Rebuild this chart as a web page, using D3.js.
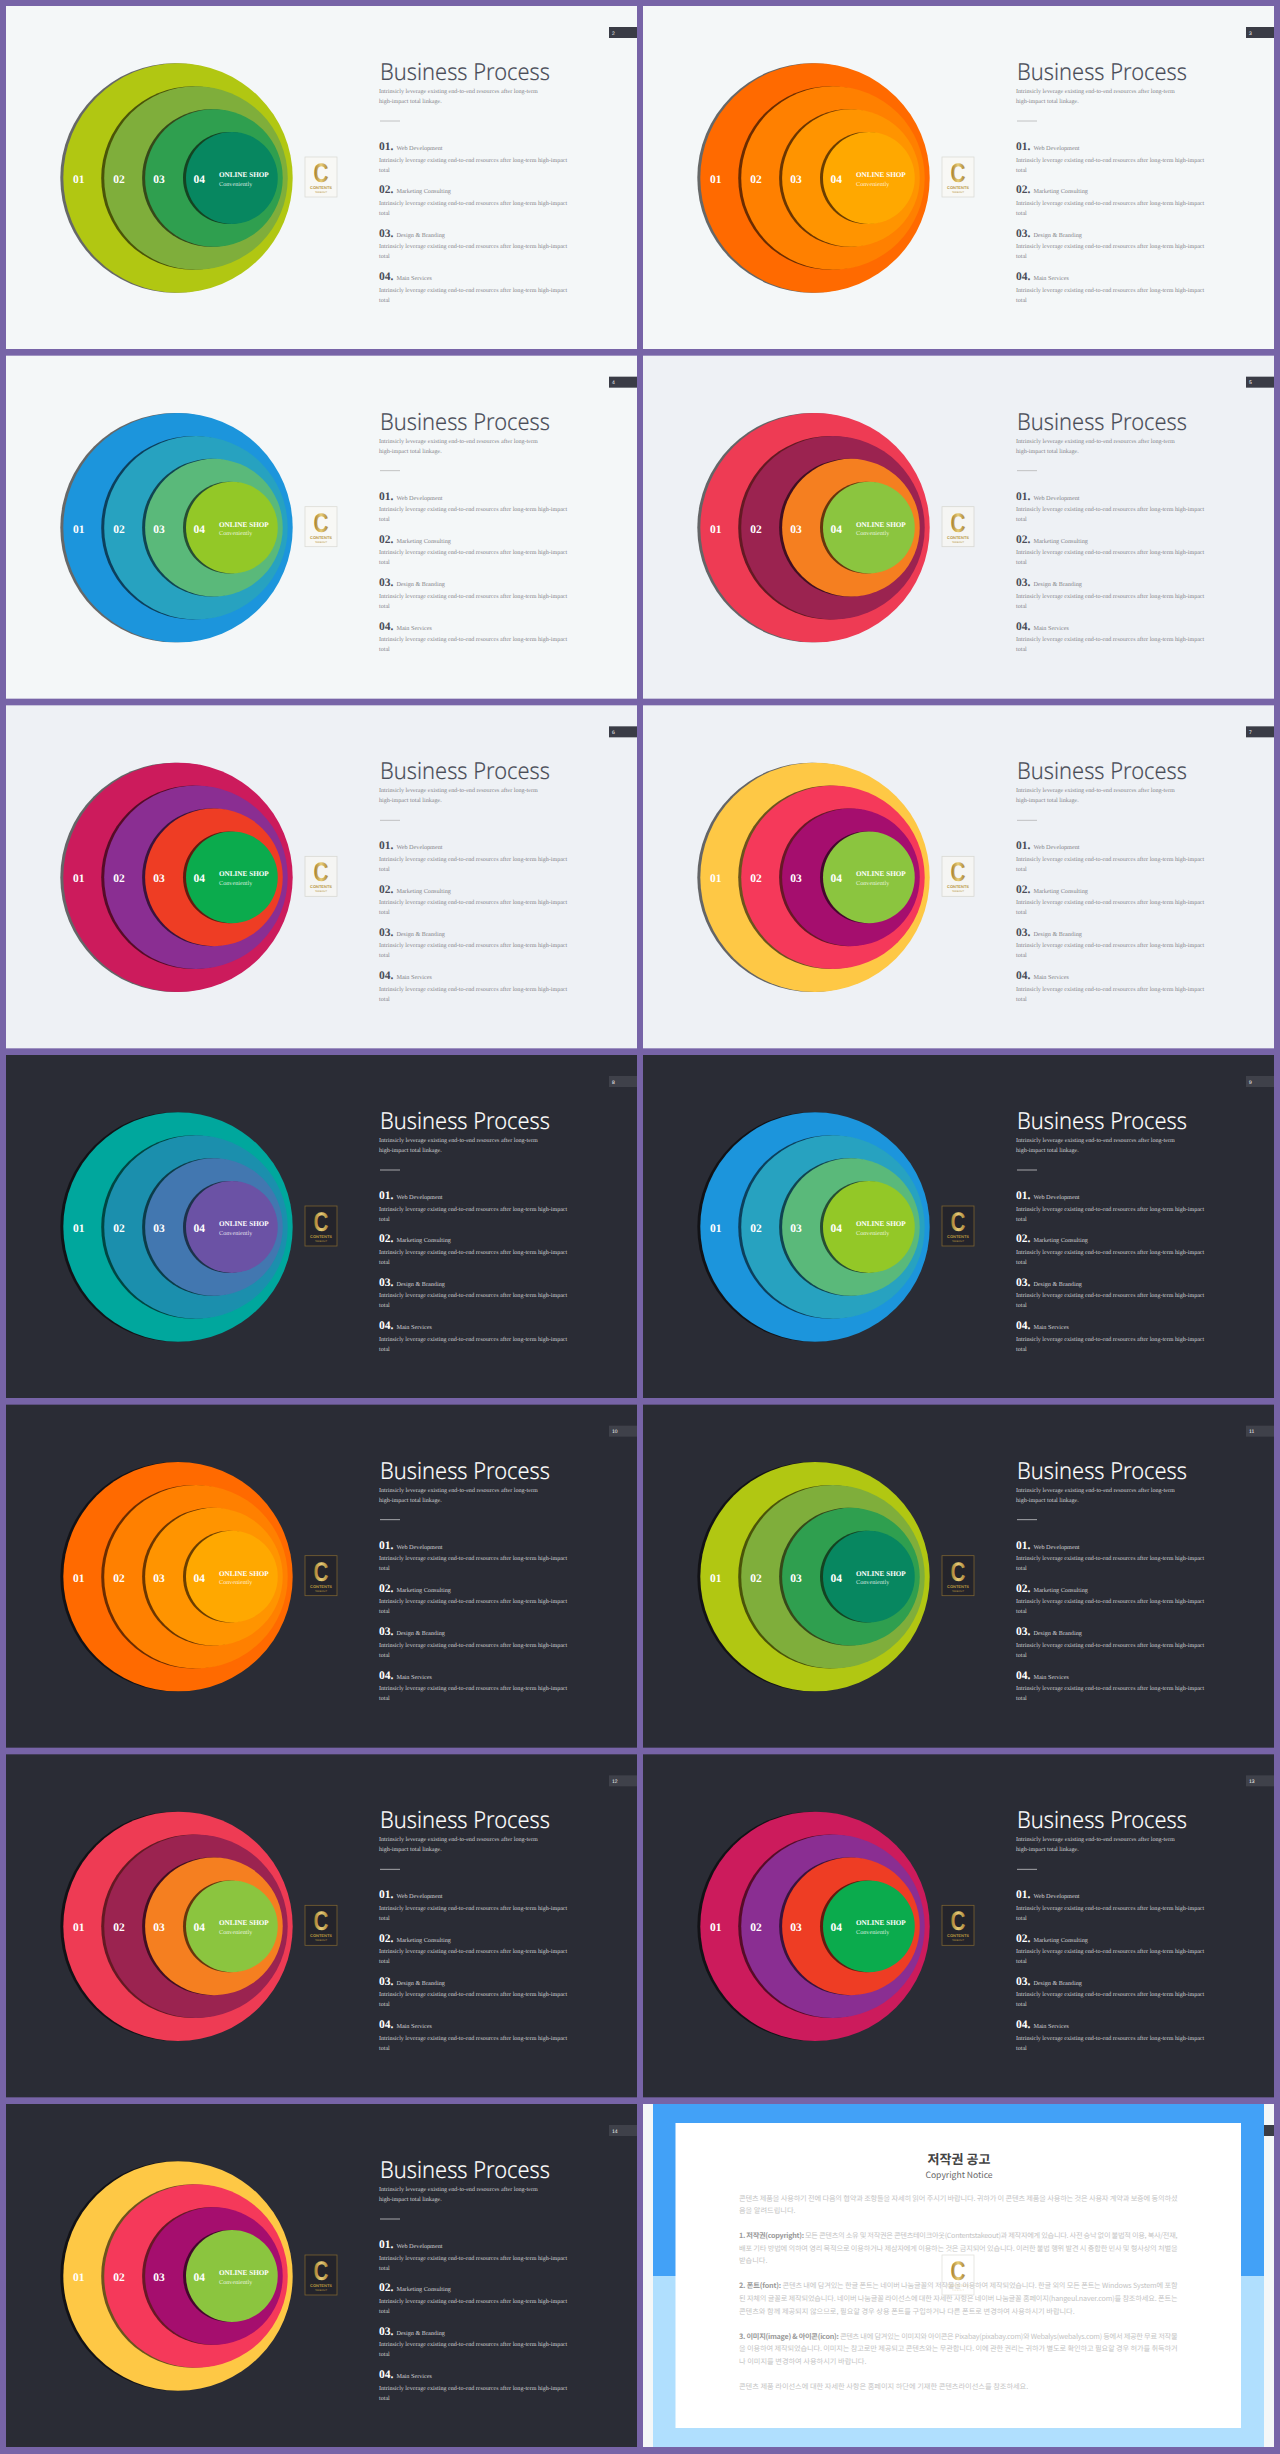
<!DOCTYPE html>
<html>
<head>
<meta charset="utf-8">
<title>Business Process</title>
<script src="https://cdn.jsdelivr.net/npm/d3@7"></script>
<style>
html, body { margin: 0; padding: 0; background: #7764a7; }
svg { display: block; text-rendering: geometricPrecision; }
.serif { font-family: "Liberation Serif", serif; font-feature-settings: "onum"; }
.kr { font-family: "Noto Sans CJK KR", sans-serif; }
</style>
</head>
<body>
<script>
//Chart data
var ringLabels = ["01", "02", "03", "04"];
var ringValues = [100, 80, 60, 40];

var itemNumbers = ["01.", "02.", "03.", "04."];
var itemLabels = ["Web Development", "Marketing Consulting", "Design & Branding", "Main Services"];
var itemText = ["Intrinsicly leverage existing end-to-end resources after long-term high-impact", "total"];
var subtitleText = ["Intrinsicly leverage existing end-to-end resources after long-term", "high-impact total linkage."];

var greenRings = ["#b1c712", "#7fae3b", "#2f9f4f", "#078760"];
var orangeRings = ["#ff6a00", "#ff8000", "#ff9400", "#ffa800"];
var blueRings = ["#1c95dc", "#27a2c0", "#5ab97a", "#93c827"];
var redRings = ["#ee3b54", "#9b2350", "#f57f20", "#8bc53f"];
var magentaRings = ["#cc1b5c", "#8a2e92", "#ee3d24", "#0bab4d"];
var yellowRings = ["#fec845", "#f5395a", "#a50e6e", "#8bc53f"];
var tealRings = ["#00a79d", "#1b8fad", "#4277b0", "#6b52a5"];

var slideRings = [greenRings, orangeRings, blueRings, redRings, magentaRings, yellowRings,
    tealRings, blueRings, orangeRings, greenRings, redRings, magentaRings, yellowRings];
var slidePages = [2, 3, 4, 5, 6, 7, 8, 9, 10, 11, 12, 13, 14];
var slideThemes = ["light", "light", "light", "pale", "pale", "pale",
    "dark", "dark", "dark", "dark", "dark", "dark", "dark"];

var noticeTitle = "저작권 공고";
var noticeSubtitle = "Copyright Notice";
var noticeParagraphs = [
    [["", "콘텐츠 제품을 사용하기 전에 다음의 협약과 조항들을 자세히 읽어 주시기 바랍니다. 귀하가 이 콘텐츠 제품을 사용하는 것은 사용자 계약과 보증에 동의하셨"],
     ["", "음을 알려드립니다."]],
    [["1. 저작권(copyright):", " 모든 콘텐츠의 소유 및 저작권은 콘텐츠테이크아웃(Contentstakeout)과 제작자에게 있습니다. 사전 승낙 없이 불법적 이용, 복사/전재,"],
     ["", "배포 기타 방법에 의하여 영리 목적으로 이용하거나 제삼자에게 이용하는 것은 금지되어 있습니다. 이러한 불법 행위 발견 시 종합한 민사 및 형사상의 처벌을"],
     ["", "받습니다."]],
    [["2. 폰트(font):", " 콘텐츠 내에 담겨있는 한글 폰트는 네이버 나눔글꼴의 저작물을 이용하여 제작되었습니다. 한글 외의 모든 폰트는 Windows System에 포함"],
     ["", "된 자체의 글꼴로 제작되었습니다. 네이버 나눔글꼴 라이선스에 대한 자세한 사항은 네이버 나눔글꼴 홈페이지(hangeul.naver.com)를 참조하세요. 폰트는"],
     ["", "콘텐츠와 함께 제공되지 않으므로, 필요할 경우 상용 폰트를 구입하거나 다른 폰트로 변경하여 사용하시기 바랍니다."]],
    [["3. 이미지(image) & 아이콘(icon):", " 콘텐츠 내에 담겨있는 이미지와 아이콘은 Pixabay(pixabay.com)와 Webalys(webalys.com) 등에서 제공한 무료 저작물"],
     ["", "을 이용하여 제작되었습니다. 이미지는 참고로만 제공되고 콘텐츠와는 무관합니다. 이에 관한 권리는 귀하가 별도로 확인하고 필요할 경우 허가를 취득하거"],
     ["", "나 이미지를 변경하여 사용하시기 바랍니다."]],
    [["", "콘텐츠 제품 라이선스에 대한 자세한 사항은 홈페이지 하단에 기재한 콘텐츠라이선스를 참조하세요."]]
];

//Theme colors
var themeColors = {
    light: { bg: "#f4f7f8", title: "#4a4d58", text: "#85858a", head: "#4a4d58", rule: "#b5b5b5", tab: "#3a3c46", logoFill: "#f8f8f5", logoStroke: "#dcdcd6" },
    pale: { bg: "#eef1f5", title: "#4a4d58", text: "#85858a", head: "#4a4d58", rule: "#b5b5b5", tab: "#3a3c46", logoFill: "#f5f5f3", logoStroke: "#d8d8d2" },
    dark: { bg: "#2a2c35", title: "#ffffff", text: "#d0d0d4", head: "#ffffff", rule: "#c5c5c8", tab: "#3f414a", logoFill: "#24242b", logoStroke: "#7a6230" }
};

//Scales
var panelW = 631, panelH = 343;
var colX = d3.scaleLinear().domain([0, 1]).range([6, 643]);
var rowY = d3.scaleLinear().domain([0, 6]).range([6, 2104]);
var ringRadius = d3.scaleLinear().domain([0, 100]).range([0, 114.7]);
var ringLeft = d3.scalePoint().domain(ringLabels).range([57.3, 180]);
var ringLabelX = d3.scalePoint().domain(ringLabels).range([72.7, 193.3]);
var itemY = d3.scalePoint().domain(itemNumbers).range([144, 274]);
var ringCy = 172;

var svg = d3.select("body").append("svg")
    .attr("width", 1280)
    .attr("height", 2454);

var defs = svg.append("defs");

defs.append("filter").attr("id", "soft")
    .append("feGaussianBlur").attr("stdDeviation", 0.4);

var gold = defs.append("linearGradient").attr("id", "gold")
    .attr("x1", 0).attr("x2", 1).attr("y1", 0).attr("y2", 0);
gold.append("stop").attr("offset", "0%").attr("stop-color", "#9a7428");
gold.append("stop").attr("offset", "50%").attr("stop-color", "#e8cd78");
gold.append("stop").attr("offset", "100%").attr("stop-color", "#a67f30");

//Small logo, same spot on every slide
function drawLogo(g, colors, solid) {
    var logo = g.append("g").attr("transform", "translate(299,151)");
    logo.append("rect")
        .attr("width", 32).attr("height", 40)
        .attr("fill", solid ? colors.logoFill : "none")
        .attr("stroke", colors.logoStroke)
        .attr("stroke-width", 0.8);
    logo.append("text")
        .attr("x", 16).attr("y", 25)
        .attr("text-anchor", "middle")
        .attr("font-family", "Liberation Sans, sans-serif")
        .attr("font-weight", 700)
        .attr("font-size", 27)
        .attr("textLength", 15)
        .attr("lengthAdjust", "spacingAndGlyphs")
        .attr("fill", "url(#gold)")
        .text("C");
    logo.append("text")
        .attr("x", 16).attr("y", 32)
        .attr("text-anchor", "middle")
        .attr("font-family", "Liberation Sans, sans-serif")
        .attr("font-weight", 700)
        .attr("font-size", 4)
        .attr("fill", "#b8973f")
        .attr("opacity", solid ? 1 : 0.25)
        .text("CONTENTS");
    logo.append("text")
        .attr("x", 16).attr("y", 36)
        .attr("text-anchor", "middle")
        .attr("font-family", "Liberation Sans, sans-serif")
        .attr("font-size", 2.6)
        .attr("fill", "#b8973f")
        .attr("opacity", solid ? 1 : 0.25)
        .text("TAKEOUT");
}

function drawTab(g, colors, page) {
    g.append("rect")
        .attr("x", 603).attr("y", 21)
        .attr("width", panelW - 603).attr("height", 11)
        .attr("fill", colors.tab);
    if (page !== undefined) {
        g.append("text")
            .attr("x", 606).attr("y", 28.5)
            .attr("font-family", "Liberation Sans, sans-serif")
            .attr("font-size", 5)
            .attr("fill", "#ffffff")
            .text(page);
    }
}

function drawSlide(i) {
    var colors = themeColors[slideThemes[i]];
    var rings = slideRings[i];
    var g = svg.append("g")
        .attr("transform", "translate(" + colX(i % 2) + "," + rowY(Math.floor(i / 2)) + ")");

    g.append("rect")
        .attr("width", panelW).attr("height", panelH)
        .attr("fill", colors.bg);
    drawTab(g, colors, slidePages[i]);

    //Rings, each with its own dark crescent on the left
    ringLabels.forEach(function (label, j) {
        var r = ringRadius(ringValues[j]);
        var cx = ringLeft(label) + r;
        g.append("circle")
            .attr("cx", cx - 3).attr("cy", ringCy).attr("r", r)
            .attr("fill", "#000000")
            .attr("fill-opacity", 0.58)
            .attr("filter", "url(#soft)");
        g.append("circle")
            .attr("cx", cx).attr("cy", ringCy).attr("r", r)
            .attr("fill", rings[j]);
    });

    g.selectAll(".ringNumber")
        .data(ringLabels)
        .join("text")
        .attr("class", "serif")
        .attr("x", function (d) { return ringLabelX(d); })
        .attr("y", ringCy + 5)
        .attr("text-anchor", "middle")
        .attr("font-weight", 700)
        .attr("font-size", 11.5)
        .attr("fill", "#ffffff")
        .text(function (d) { return d; });

    g.append("text").attr("class", "serif")
        .attr("x", 213).attr("y", 171)
        .attr("font-weight", 700).attr("font-size", 7.2)
        .attr("fill", "#ffffff")
        .text("ONLINE SHOP");
    g.append("text").attr("class", "serif")
        .attr("x", 213).attr("y", 179.5)
        .attr("font-size", 6.2)
        .attr("fill", "#ffffff").attr("fill-opacity", 0.8)
        .text("Conveniently");

    drawLogo(g, colors, true);

    //Right hand text
    g.append("text")
        .attr("x", 374).attr("y", 74)
        .attr("font-family", "Noto Sans, sans-serif")
        .attr("font-weight", 300)
        .attr("font-size", 23.5)
        .attr("textLength", 170)
        .attr("lengthAdjust", "spacingAndGlyphs")
        .attr("fill", colors.title)
        .attr("stroke", colors.title)
        .attr("stroke-width", 0.15)
        .text("Business Process");

    subtitleText.forEach(function (line, j) {
        g.append("text").attr("class", "serif")
            .attr("x", 373).attr("y", 87 + j * 10)
            .attr("font-size", 6.1)
            .attr("fill", colors.text)
            .text(line);
    });

    g.append("line")
        .attr("x1", 374).attr("x2", 394)
        .attr("y1", 115).attr("y2", 115)
        .attr("stroke", colors.rule)
        .attr("stroke-width", 0.8);

    itemNumbers.forEach(function (num, j) {
        var y = itemY(num);
        var head = g.append("text").attr("class", "serif")
            .attr("x", 373).attr("y", y)
            .attr("fill", colors.text);
        head.append("tspan")
            .attr("font-weight", 700).attr("font-size", 11.5)
            .attr("fill", colors.head)
            .text(num);
        head.append("tspan")
            .attr("dx", 3)
            .attr("font-size", 6.2)
            .text(itemLabels[j]);
        itemText.forEach(function (line, k) {
            g.append("text").attr("class", "serif")
                .attr("x", 373).attr("y", y + 11.5 + k * 10)
                .attr("font-size", 6.05)
                .attr("fill", colors.text)
                .text(line);
        });
    });
}

function drawNotice() {
    var colors = themeColors.light;
    var g = svg.append("g")
        .attr("transform", "translate(" + colX(1) + "," + rowY(6) + ")");

    g.append("rect").attr("width", panelW).attr("height", 343).attr("fill", colors.bg);
    drawTab(g, colors);
    g.append("rect").attr("x", 10).attr("width", 611).attr("height", 172).attr("fill", "#42a1f7");
    g.append("rect").attr("x", 10).attr("y", 172).attr("width", 611).attr("height", 171).attr("fill", "#b0dffe");
    g.append("rect").attr("x", 32.5).attr("y", 19).attr("width", 565.5).attr("height", 305).attr("fill", "#ffffff");

    g.append("text").attr("class", "kr")
        .attr("x", 316).attr("y", 60)
        .attr("text-anchor", "middle")
        .attr("font-weight", 700).attr("font-size", 13)
        .attr("fill", "#444444")
        .text(noticeTitle);
    g.append("text").attr("class", "kr")
        .attr("x", 316).attr("y", 74)
        .attr("text-anchor", "middle")
        .attr("font-size", 8.6)
        .attr("fill", "#666666")
        .text(noticeSubtitle);

    var y = 96.5;
    noticeParagraphs.forEach(function (para) {
        para.forEach(function (line) {
            var t = g.append("text").attr("class", "kr")
                .attr("x", 96).attr("y", y)
                .attr("font-size", 7.2)
                .attr("fill", "#c4c4c4");
            t.append("tspan").attr("font-weight", 700).attr("fill", "#999999").text(line[0]);
            t.append("tspan").text(line[1]);
            if (t.node().getComputedTextLength() > 350) {
                t.attr("textLength", 438.5).attr("lengthAdjust", "spacing");
            }
            y += 12.6;
        });
        y += 12.4;
    });

    drawLogo(g, { logoStroke: "#e2e2dc" }, false);
}

slidePages.forEach(function (page, i) { drawSlide(i); });
drawNotice();
</script>
</body>
</html>
